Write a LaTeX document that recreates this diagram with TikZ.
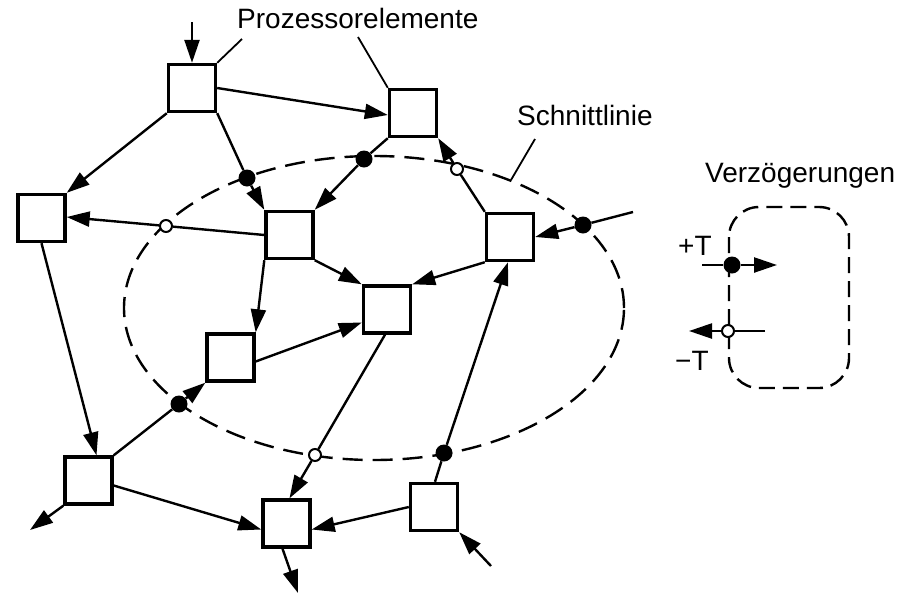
\documentclass[tikz,border=0pt]{standalone}
\usepackage{fontspec}
\setmainfont{Liberation Sans}
\usetikzlibrary{arrows.meta}
\begin{document}
\begin{tikzpicture}[x=1pt,y=-1pt,
  pe/.style={draw,line width=3.4pt,minimum size=47pt,inner sep=0pt,fill=white},
  link/.style={line width=2.4pt,-{Triangle[length=23pt,width=15pt]}},
  plain/.style={line width=2.4pt},
  fdot/.style={circle,fill=black,inner sep=0pt,minimum size=17pt},
  odot/.style={circle,draw,fill=white,line width=2pt,inner sep=0pt,minimum size=12pt},
  cut/.style={line width=2.4pt,dash pattern=on 20pt off 10pt},
  lbl/.style={font=\fontsize{28}{30}\selectfont,inner sep=0pt,anchor=base west},
  leader/.style={line width=1.8pt}]
\useasboundingbox (0,0) rectangle (900,595);

% cut line through the network
\draw[cut] (374,308) ellipse [x radius=250pt, y radius=152pt];

% processor elements
\node[pe] (A) at (192,88) {};
\node[pe] (B) at (413,113) {};
\node[pe] (C) at (41.5,218) {};
\node[pe] (D) at (289.5,235) {};
\node[pe] (E) at (510,237) {};
\node[pe] (F) at (387,309.5) {};
\node[pe] (G) at (230.5,357.5) {};
\node[pe] (H) at (88.5,480.5) {};
\node[pe] (I) at (286.5,523.5) {};
\node[pe] (J) at (434,507) {};

% delays on the cut line
\node[fdot] (dAD) at (247,178) {};
\node[fdot] (dBD) at (364,159) {};
\node[odot] (oEB) at (457,169) {};
\node[fdot] (dE) at (583,225) {};
\node[odot] (oDC) at (166,226) {};
\node[fdot] (dHG) at (179,404) {};
\node[odot] (oFI) at (315,455) {};
\node[fdot] (dJE) at (444,453) {};

% free ends of inputs and outputs
\coordinate (inA) at (192,22);
\coordinate (inE) at (633,212);
\coordinate (inJ) at (491,566);
\coordinate (outH) at (30,530);
\coordinate (outI) at (298,593);

% connections
\draw[link] (inA) -- (A.north);
\draw[link] (A.east) -- ([yshift=-2pt]B.west);
\draw[link] (A.south west) -- (C.north east);
\draw[plain] (A.south east) -- (dAD);
\draw[link] (dAD) -- (D.north west);
\draw[plain] (B.south west) -- (dBD);
\draw[link] (dBD) -- (D.north east);
\draw[plain] (E.north west) -- (oEB);
\draw[link] (oEB) -- (B.south east);
\draw[plain] (inE) -- (dE);
\draw[link] (dE) -- (E.east);
\draw[plain] (D.west) -- (oDC);
\draw[link] (oDC) -- ([yshift=1pt]C.east);
\draw[link] (D.south east) -- (F.north west);
\draw[link] (D.south west) -- (G.north east);
\draw[link] (E.south west) -- (F.north east);
\draw[link] ([yshift=-4pt]G.east) -- ([yshift=-13pt]F.west);
\draw[plain] ([xshift=-2pt]F.south) -- (oFI);
\draw[link] (oFI) -- ([xshift=3pt]I.north);
\draw[link] (C.south) -- ([xshift=8pt]H.north);
\draw[plain] (H.north east) -- (dHG);
\draw[link] (dHG) -- (G.south west);
\draw[link] (H.south west) -- (outH);
\draw[link] ([yshift=-5pt]H.east) -- ([yshift=-6pt]I.west);
\draw[link] ([xshift=-4pt]I.south) -- (outI);
\draw[plain] ([xshift=1pt]J.north) -- (dJE);
\draw[link] (dJE) -- ([xshift=-2pt]E.south);
\draw[link] (J.west) -- ([yshift=-6pt]I.east);
\draw[link] (inJ) -- (J.south east);

% labels with leader lines
\node[lbl] (tPE) at (237,28) {Prozessorelemente};
\coordinate (lA) at (242,39);
\coordinate (lB) at (358,37);
\draw[leader] (A.north east) -- (lA);
\draw[leader] (B.north west) -- (lB);
\node[lbl] (tCut) at (517,125) {Schnittlinie};
\coordinate (lC1) at (535,139);
\coordinate (lC2) at (511,180);
\draw[leader] (lC1) -- (lC2);

% legend of delay symbols
\node[lbl] (tDelay) at (705,182) {Verzögerungen};
\draw[cut,dash pattern=on 16pt off 8pt,rounded corners=30pt] (729,207) rectangle (849,388);
\node[lbl] (tPlus) at (678,255) {+T};
\node[lbl] (tMinus) at (675,370) {−T};
\coordinate (pIn) at (702,265);
\coordinate (pOut) at (777,265);
\coordinate (mIn) at (765,331);
\coordinate (mOut) at (689,331);
\node[fdot] (lgF) at (732,265) {};
\node[odot] (lgO) at (728,331) {};
\draw[plain] (pIn) -- (lgF);
\draw[link] (lgF) -- (pOut);
\draw[plain] (mIn) -- (lgO);
\draw[link] (lgO) -- (mOut);
\end{tikzpicture}
\end{document}
